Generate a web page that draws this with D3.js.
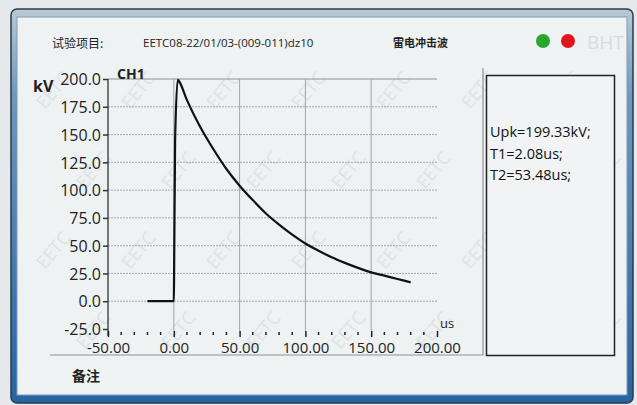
<!DOCTYPE html>
<html><head><meta charset="utf-8">
<script src="https://cdn.jsdelivr.net/npm/d3@7"></script>
<style>body{margin:0;background:#e6e9eb}svg{display:block}</style>
</head><body>
<svg id="c" width="637" height="405"></svg>
<script>
// ---- data ----
const timeUs    = [-20, -10, 0, 0.2, 1, 3, 4, 10, 20, 30, 40, 50, 60, 70, 80, 90, 100, 110, 120, 130, 140, 150, 160, 170, 180];
const voltageKV = [0, 0, 0, 20, 145, 199.33, 198, 181, 157, 137, 119, 104, 91, 79, 69, 60, 52, 45.5, 39.5, 34.5, 30, 26, 23, 20, 17];
const yTicks = [-25, 0, 25, 50, 75, 100, 125, 150, 175, 200];
const xTicks = [-50, 0, 50, 100, 150, 200];
const xMinor = [-40, -30, -20, -10, 10, 20, 30, 40, 60, 70, 80, 90, 110, 120, 130, 140, 160, 170, 180, 190];
const resultLines = ["Upk=199.33kV;", "T1=2.08us;", "T2=53.48us;"];
const headerLabel = "试验项目:";
const headerId = "EETC08-22/01/03-(009-011)dz10";
const headerType = "雷电冲击波";
const channel = "CH1";
const remark = "备注";

const svg = d3.select("#c");
const latin = "'Open Sans', 'Noto Sans', sans-serif";
const cjk = "'Noto Sans CJK SC', sans-serif";
const hy = s => s.replace("\u2212", "-");

// frame
const defs = svg.append("defs");
const g1 = defs.append("linearGradient").attr("id","fr").attr("x1",0).attr("y1",0).attr("x2",0).attr("y2",1);
g1.append("stop").attr("offset","0").attr("stop-color","#b9c9d4");
g1.append("stop").attr("offset","0.22").attr("stop-color","#6f98bd");
g1.append("stop").attr("offset","1").attr("stop-color","#2763a3");
svg.append("rect").attr("x",11).attr("y",9).attr("width",622).attr("height",394).attr("rx",6)
  .attr("fill","url(#fr)").attr("stroke","#2a3b4c").attr("stroke-width",1.5);
svg.append("rect").attr("x",17).attr("y",17).attr("width",610).attr("height",378)
  .attr("fill","#eff2f3").attr("stroke","#7f9bb2").attr("stroke-width",1);

// faint watermark (kept inside the panel)
const wm = svg.append("g").attr("fill","#dde2e5").attr("font-family",latin).attr("font-size",18);
for (let i = 0; i < 7; i++) for (let j = 0; j < 4; j++) {
  const px = 45 + i*85 + (j%2)*40, py = 110 + j*80;
  if (px < 600) wm.append("text").attr("transform",`translate(${px},${py}) rotate(-50)`).text("EETC");
}

// header
svg.append("text").attr("x",52).attr("y",48).attr("font-family",cjk).attr("font-size",12).attr("fill","#222").text(headerLabel);
svg.append("text").attr("x",143).attr("y",47).attr("font-family",latin).attr("font-size",11.5).attr("fill","#222").text(headerId);
svg.append("text").attr("x",393).attr("y",47).attr("font-family",cjk).attr("font-size",11).attr("font-weight","bold").attr("fill","#222").text(headerType);
svg.append("circle").attr("cx",543).attr("cy",41).attr("r",7).attr("fill","#2aa52e");
svg.append("circle").attr("cx",568).attr("cy",41).attr("r",7).attr("fill","#e0161b");
svg.append("text").attr("x",587).attr("y",49).attr("font-family",latin).attr("font-size",19).attr("fill","#d6dbde").text("BHT");

// scales
const x = d3.scaleLinear().domain([-50, 200]).range([108, 437]);
const y = d3.scaleLinear().domain([-25, 200]).range([329, 79]);

// grid
const grid = svg.append("g");
grid.selectAll("line.h").data(yTicks.filter(v => v > -25 && v < 200)).join("line")
  .attr("x1",x(-50)).attr("x2",x(200)).attr("y1",d=>y(d)).attr("y2",d=>y(d))
  .attr("stroke","#a4aaae").attr("stroke-width",1).attr("stroke-dasharray","2,1");
grid.append("line").attr("x1",x(-50)).attr("x2",x(200)).attr("y1",y(200)).attr("y2",y(200))
  .attr("stroke","#8a9094").attr("stroke-width",1.2);
grid.selectAll("line.v").data(xTicks.filter(v => v > -50 && v < 200)).join("line")
  .attr("x1",d=>x(d)).attr("x2",d=>x(d)).attr("y1",y(200)).attr("y2",y(-25)+2)
  .attr("stroke","#a0a6aa").attr("stroke-width",1);

// y axis
const yAxis = d3.axisLeft(y).tickValues(yTicks).tickFormat(d => hy(d3.format(".1f")(d))).tickSize(5).tickPadding(2);
const ya = svg.append("g").attr("transform",`translate(${x(-50)},0)`).call(yAxis);
ya.select(".domain").attr("d",`M0,${y(200)}V${y(-25)+7}`).attr("stroke","#333").attr("stroke-width",1.3);
ya.selectAll(".tick line").attr("stroke","#333").attr("stroke-width",1.5);
ya.selectAll("text").attr("font-family",latin).attr("font-size",16).attr("fill","#222").attr("dy","0.36em");

// x axis (ticks only)
const xAxis = d3.axisBottom(x).tickValues(xTicks).tickFormat(d => hy(d3.format(".2f")(d))).tickSize(6).tickPadding(5);
const xa = svg.append("g").attr("transform",`translate(0,${y(-25)+2})`).call(xAxis);
xa.select(".domain").remove();
xa.selectAll(".tick line").attr("stroke","#222").attr("stroke-width",1.5);
xa.selectAll("text").attr("font-family",latin).attr("font-size",15).attr("fill","#222");
svg.append("g").selectAll("line").data(xMinor).join("line")
  .attr("x1",d=>x(d)).attr("x2",d=>x(d)).attr("y1",y(-25)+3).attr("y2",y(-25)+6)
  .attr("stroke","#222").attr("stroke-width",1.5);

// labels
svg.append("text").attr("x",33).attr("y",92).attr("font-family",latin).attr("font-size",16).attr("font-weight","bold").attr("fill","#222").text("kV");
svg.append("text").attr("x",117).attr("y",79).attr("font-family",latin).attr("font-size",14).attr("font-weight","bold").attr("fill","#222").text(channel);
svg.append("text").attr("x",440).attr("y",328).attr("font-family",latin).attr("font-size",13).attr("fill","#222").text("us");

// curve
const pts = timeUs.map((t,i)=>[t, voltageKV[i]]);
svg.append("path").datum(pts)
  .attr("d", d3.line().x(d=>x(d[0])).y(d=>y(d[1])).curve(d3.curveMonotoneX))
  .attr("fill","none").attr("stroke","#111").attr("stroke-width",2.2).attr("stroke-linejoin","round");

// group lines
svg.append("path").attr("d","M50,355H483V68").attr("fill","none").attr("stroke","#8c9296").attr("stroke-width",1.2);

// results box
svg.append("rect").attr("x",486.5).attr("y",75.5).attr("width",128).attr("height",280)
  .attr("fill","#f1f3f4").attr("stroke","#222").attr("stroke-width",1.5);
svg.append("g").selectAll("text").data(resultLines).join("text")
  .attr("x",490).attr("y",(d,i)=>137+i*21.5)
  .attr("font-family",latin).attr("font-size",14.5).attr("fill","#111").text(d=>d);

// remark
svg.append("text").attr("x",72).attr("y",381).attr("font-family",cjk).attr("font-size",14).attr("font-weight","bold").attr("fill","#222").text(remark);
</script>
</body></html>
